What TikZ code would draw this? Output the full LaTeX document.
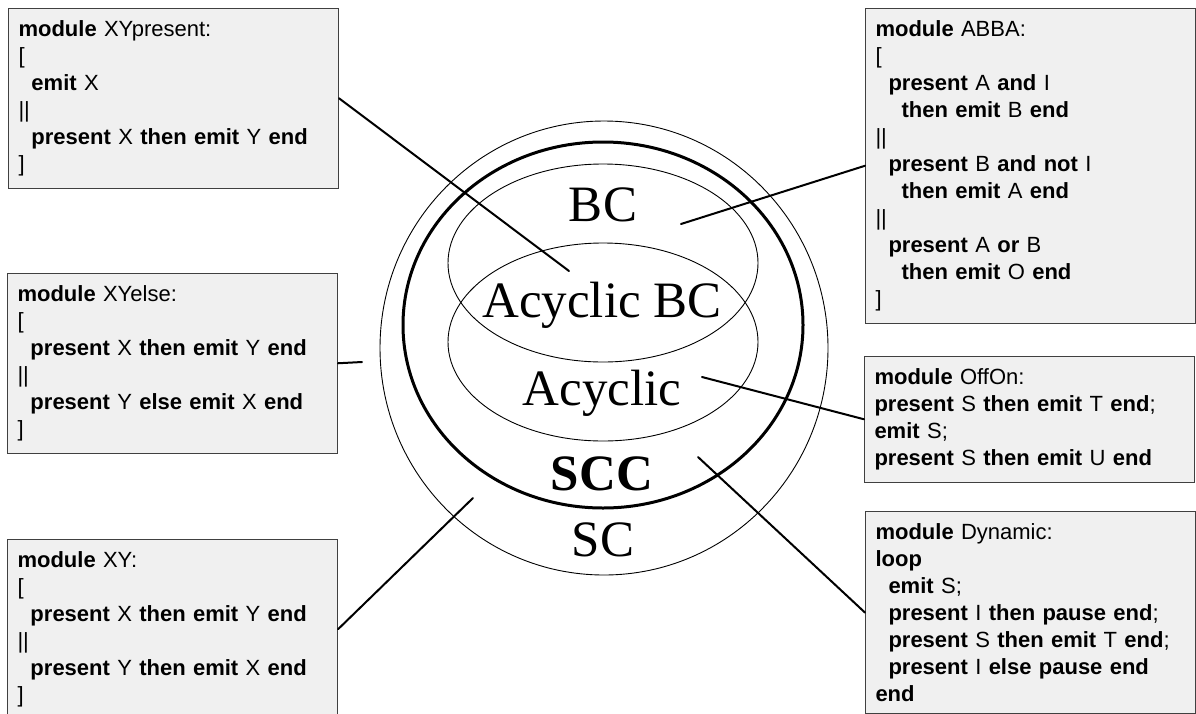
\documentclass[tikz,border=0pt]{standalone}
\usepackage{fontspec}
\setmainfont{Liberation Serif}
\setsansfont{Liberation Sans}
\usepackage{tikz}
\usetikzlibrary{positioning,calc}

\definecolor{boxfill}{HTML}{F0F0F0}
\definecolor{boxline}{HTML}{404040}

\tikzset{
    module/.style={draw=boxline,fill=boxfill,line width=1pt,anchor=north west,
        align=left,text width=310pt,inner xsep=10pt,inner ysep=12pt,
        font=\sffamily\fontsize{22}{27}\selectfont},
    setname/.style={anchor=base,font=\fontsize{51}{60}\selectfont},
    thinset/.style={line width=0.9pt},
    link/.style={line width=2pt}
}
\newcommand{\ind}{\hspace*{13pt}}

\begin{document}
\begin{tikzpicture}[x=1pt,y=-1pt,cap=round]
        \useasboundingbox (0,0) rectangle (1196,713);

        % draw the nested classes
        \draw[thinset] (604,348) ellipse [x radius=224pt,y radius=227pt];
        \draw[line width=3pt] (603,325) ellipse [x radius=200pt,y radius=183pt];
        \draw[thinset] (603,263) ellipse [x radius=155pt,y radius=99pt];
        \draw[thinset] (603,342) ellipse [x radius=155pt,y radius=99pt];

        % names of the classes
        \foreach \n/\x/\y/\txt in {
            bc/603/221/BC,
            acbc/602/317/Acyclic BC,
            ac/602/405/Acyclic,
            sc/603/556/SC}
                \node[setname] (\n) at (\x,\y) {\txt};
        \node[setname,font=\fontsize{51}{60}\selectfont\bfseries] (scc) at (602,490) {SCC};

        % the example programs
        \node[module] (xypresent) at (8,8) {\textbf{module} XYpresent:\\
            {[}\\
            \ind\textbf{emit} X\\
            ||\\
            \ind\textbf{present} X \textbf{then emit} Y \textbf{end}\\
            ]};

        \node[module] (abba) at (865,8) {\textbf{module} ABBA:\\
            {[}\\
            \ind\textbf{present} A \textbf{and} I\\
            \ind\ind\textbf{then emit} B \textbf{end}\\
            ||\\
            \ind\textbf{present} B \textbf{and not} I\\
            \ind\ind\textbf{then emit} A \textbf{end}\\
            ||\\
            \ind\textbf{present} A \textbf{or} B\\
            \ind\ind\textbf{then emit} O \textbf{end}\\
            ]};

        \node[module] (xyelse) at (7,273) {\textbf{module} XYelse:\\
            {[}\\
            \ind\textbf{present} X \textbf{then emit} Y \textbf{end}\\
            ||\\
            \ind\textbf{present} Y \textbf{else emit} X \textbf{end}\\
            ]};

        \node[module] (offon) at (864,356) {\textbf{module} OffOn:\\
            \textbf{present} S \textbf{then emit} T \textbf{end};\\
            \textbf{emit} S;\\
            \textbf{present} S \textbf{then emit} U \textbf{end}};

        \node[module] (dynamic) at (865,511) {\textbf{module} Dynamic:\\
            \textbf{loop}\\
            \ind\textbf{emit} S;\\
            \ind\textbf{present} I \textbf{then pause end};\\
            \ind\textbf{present} S \textbf{then emit} T \textbf{end};\\
            \ind\textbf{present} I \textbf{else pause end}\\
            \textbf{end}};

        \node[module] (xy) at (7,539) {\textbf{module} XY:\\
            {[}\\
            \ind\textbf{present} X \textbf{then emit} Y \textbf{end}\\
            ||\\
            \ind\textbf{present} Y \textbf{then emit} X \textbf{end}\\
            ]};

        % points inside the classes
        \coordinate (inacbc) at (569,271);
        \coordinate (inbc) at (681,224);
        \coordinate (outside) at (362,362);
        \coordinate (inac) at (702,377);
        \coordinate (inscc) at (698,457);
        \coordinate (insc) at (473,498);

        % lines from each program to its class
        \foreach \b/\p in {
            xypresent.east/inacbc,
            abba.west/inbc,
            xyelse.east/outside,
            offon.west/inac,
            dynamic.west/inscc,
            xy.east/insc}
                \draw[link] (\b) -- (\p);

\end{tikzpicture}
\end{document}
